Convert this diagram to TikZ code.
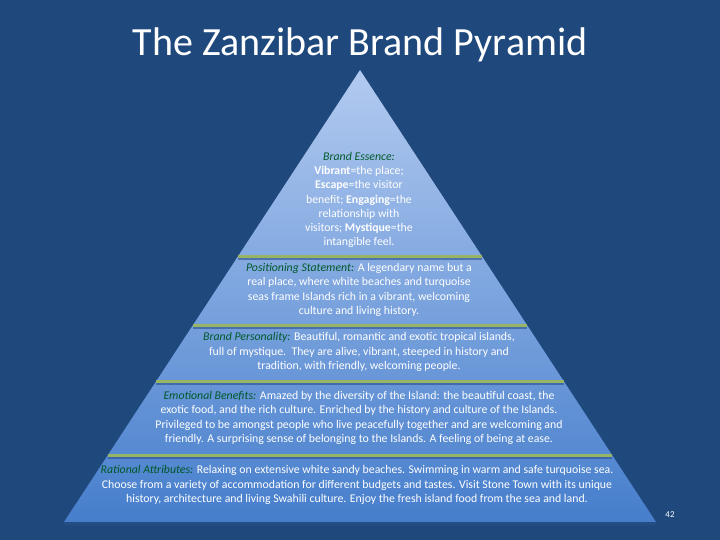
\documentclass[tikz,border=0pt]{standalone}
\usepackage{fontspec}
\setmainfont{Carlito}
\begin{document}
\begin{tikzpicture}[x=1pt,y=-1pt,
  txt/.style={text=white,align=center,font=\fontsize{11.8}{14.3}\selectfont,inner sep=0pt},
  sep/.style={line width=3pt,draw={rgb,255:red,150;green,180;blue,100}},
  shd/.style={line width=2pt,draw={rgb,255:red,40;green,80;blue,140},opacity=0.6}]
\fill[fill={rgb,255:red,31;green,73;blue,125}] (0,0) rectangle (720,540);
\useasboundingbox (0,0) rectangle (720,540);
\shade[top color={rgb,255:red,178;green,202;blue,240},bottom color={rgb,255:red,70;green,126;blue,204}]
  (360,70) -- (656,522) -- (64,522) -- cycle;
\draw[shd] (64,524) -- (656,524);
\foreach \yy in {256,325,381,455}{
  \pgfmathsetmacro\hw{0.6549*(\yy-70)}
  \draw[shd] ({360-\hw},\yy+2.5) -- ({360+\hw},\yy+2.5);
  \draw[sep] ({360-\hw},\yy) -- ({360+\hw},\yy);
}
\node[text=white,font=\fontsize{40}{46}\selectfont] (title) at (360,45) {The Zanzibar Brand Pyramid};
\node[txt] (ess) at (359,200) {{\color[rgb]{0,0.35,0.16}\itshape Brand Essence:}\\
\textbf{Vibrant}=the place;\\ \textbf{Escape}=the visitor\\ benefit; \textbf{Engaging}=the\\ relationship with\\ visitors; \textbf{Mystique}=the\\ intangible feel.};
\node[txt] (pos) at (359,290) {{\color[rgb]{0,0.35,0.16}\itshape Positioning Statement:} A legendary name but a\\ real place, where white beaches and turquoise\\ seas frame Islands rich in a vibrant, welcoming\\ culture and living history.};
\node[txt] (per) at (359,352) {{\color[rgb]{0,0.35,0.16}\itshape Brand Personality:} Beautiful, romantic and exotic tropical islands,\\ full of mystique.\ \ They are alive, vibrant, steeped in history and\\ tradition, with friendly, welcoming people.};
\node[txt] (emo) at (359,418) {{\color[rgb]{0,0.35,0.16}\itshape Emotional Benefits:} Amazed by the diversity of the Island: the beautiful coast, the\\ exotic food, and the rich culture. Enriched by the history and culture of the Islands.\\ Privileged to be amongst people who live peacefully together and are welcoming and\\ friendly. A surprising sense of belonging to the Islands. A feeling of being at ease.};
\node[txt] (rat) at (357,485) {{\color[rgb]{0,0.35,0.16}\itshape Rational Attributes:} Relaxing on extensive white sandy beaches. Swimming in warm and safe turquoise sea.\\ Choose from a variety of accommodation for different budgets and tastes. Visit Stone Town with its unique\\ history, architecture and living Swahili culture. Enjoy the fresh island food from the sea and land.};
\node[text=white,font=\fontsize{9}{10}\selectfont] (num) at (670,515) {42};
\end{tikzpicture}
\end{document}
